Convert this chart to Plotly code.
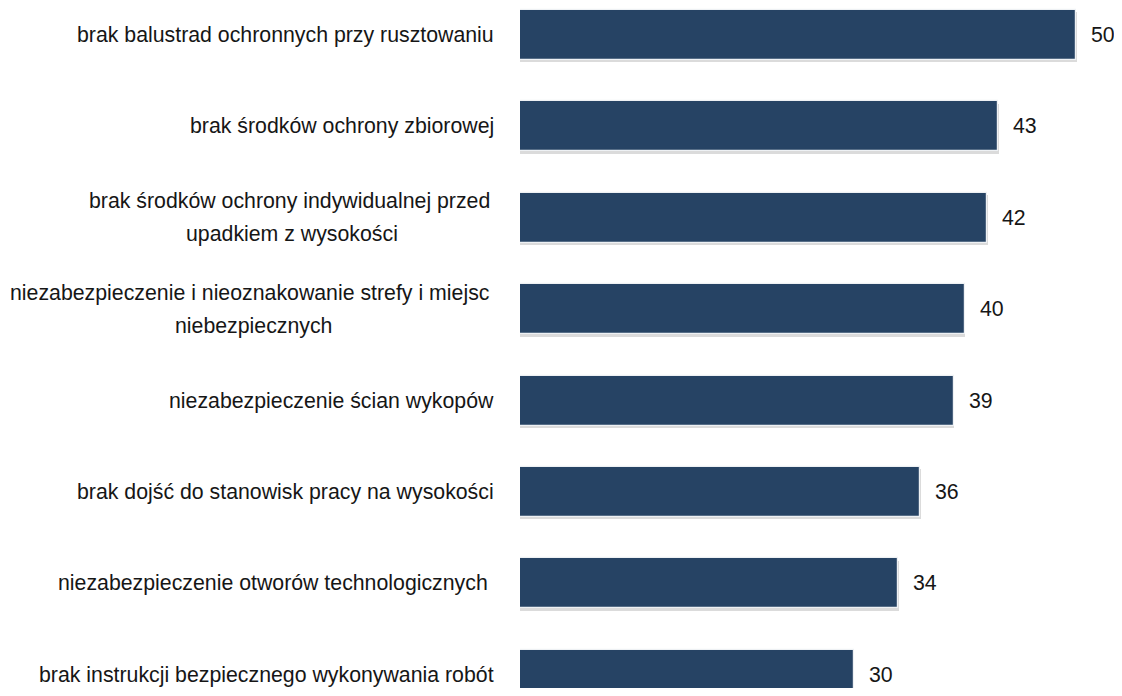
import plotly.graph_objects as go

categories = [
    ["brak balustrad ochronnych przy rusztowaniu"],
    ["brak środków ochrony zbiorowej"],
    ["brak środków ochrony indywidualnej przed", "upadkiem z wysokości"],
    ["niezabezpieczenie i nieoznakowanie strefy i miejsc", "niebezpiecznych"],
    ["niezabezpieczenie ścian wykopów"],
    ["brak dojść do stanowisk pracy na wysokości"],
    ["niezabezpieczenie otworów technologicznych "],
    ["brak instrukcji bezpiecznego wykonywania robót"],
]
values = [50, 43, 42, 40, 39, 36, 34, 30]

FONT = "Liberation Sans, Arial, sans-serif"
FS = 21.3
BAR = "#264364"
TXT = "#161616"
pos = list(range(len(values)))

# Arial / Liberation Sans advance widths (per 1000 em) for text layout
ADV = {" ": 278, "a": 556, "b": 556, "c": 500, "d": 556, "e": 556, "f": 278,
       "g": 556, "h": 556, "i": 222, "j": 222, "k": 500, "l": 222, "m": 833,
       "n": 556, "o": 556, "p": 556, "r": 333, "s": 500, "t": 278, "u": 556,
       "w": 722, "y": 500, "z": 500, "ś": 500, "ó": 556, "ć": 500}


def text_w(t):
    return sum(ADV.get(ch, 556) for ch in t) * FS / 1000.0


fig = go.Figure()
# soft shadow under the bars
fig.add_trace(go.Bar(
    x=[v + 0.05 for v in values], y=pos, orientation="h", width=0.55,
    offset=-0.25,
    marker=dict(color="rgba(0,0,0,0.14)", line=dict(width=0)),
    hoverinfo="skip", showlegend=False,
))
fig.add_trace(go.Bar(
    x=values, y=pos, orientation="h", width=0.547,
    marker=dict(color=BAR, line=dict(color="#eef1f4", width=1.2)),
    showlegend=False,
))

RIGHT = -24          # right edge of label box relative to bar start (px)
LINE_GAP = 33
ann = []
for i, (lines, v) in enumerate(zip(categories, values)):
    n = len(lines)
    if n == 1:
        t = lines[0]
        trail = text_w(" ") if t.endswith(" ") else 0
        ann.append(dict(
            x=0, xref="paper", y=i, yref="y", text=t.rstrip(), showarrow=False,
            xanchor="right", yanchor="middle", xshift=RIGHT - trail, yshift=0,
            font=dict(family=FONT, size=FS, color=TXT),
        ))
    else:
        widths = [text_w(t + " ") if k < n - 1 else text_w(t) for k, t in enumerate(lines)]
        box = max(widths)
        center = RIGHT - box / 2
        for k, t in enumerate(lines):
            off = (k - (n - 1) / 2) * LINE_GAP
            ann.append(dict(
                x=0, xref="paper", y=i, yref="y", text=t, showarrow=False,
                xanchor="center", yanchor="middle",
                xshift=center - (widths[k] - text_w(t)) / 2, yshift=-off,
                font=dict(family=FONT, size=FS, color=TXT),
            ))
    ann.append(dict(
        x=v, xref="x", y=i, yref="y", text=str(v), showarrow=False,
        xanchor="left", yanchor="middle", xshift=13, yshift=0,
        font=dict(family=FONT, size=FS, color=TXT),
    ))

fig.update_layout(
    width=1106, height=680,
    margin=dict(l=512, r=0, t=0, b=0),
    paper_bgcolor="white", plot_bgcolor="white",
    xaxis=dict(range=[0, 53.42], visible=False),
    yaxis=dict(range=[7.145, -0.2954], visible=False),
    annotations=ann,
    bargap=0, barmode="overlay",
)
fig.write_html("out.html")
